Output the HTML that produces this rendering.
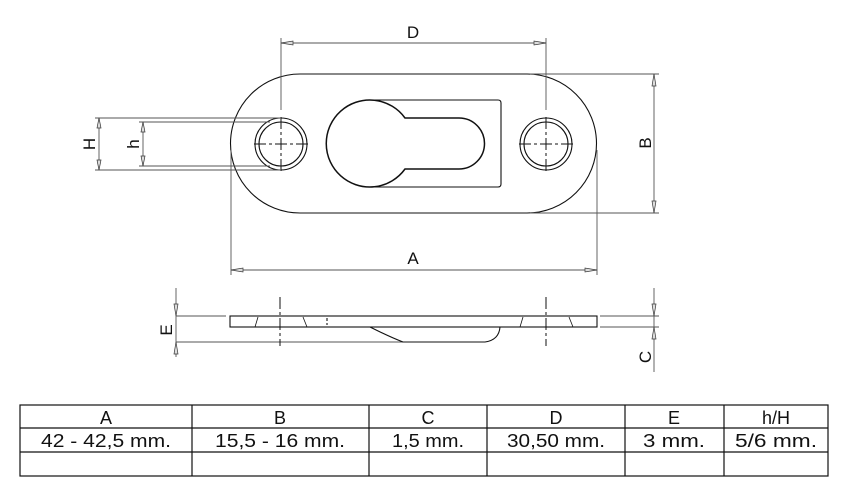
<!DOCTYPE html>
<html><head><meta charset="utf-8"><style>
html,body{margin:0;padding:0;background:#fff;width:852px;height:499px;overflow:hidden}
svg{display:block}
text{font-family:"Liberation Sans",sans-serif;fill:#111}
</style></head><body>
<svg width="852" height="499" viewBox="0 0 852 499" xmlns="http://www.w3.org/2000/svg">
<g fill="none" stroke="#111" stroke-width="1.1">
<path d="M300,74 H527 A69.5,69.5 0 0 1 527,213 H300 A69.5,69.5 0 0 1 300,74 Z"/>
<circle cx="281" cy="144" r="26"/><circle cx="281" cy="144" r="22"/>
<circle cx="546" cy="144" r="26"/><circle cx="546" cy="144" r="22"/>
<path d="M372,100 H498 Q501,100 501,103 V184 Q501,187 498,187 H372"/>
<path d="M405,118 H459 A25.5,25.5 0 0 1 459,169 H405 A43.5,43.5 0 1 1 405,118 Z" stroke-width="1.5"/>
</g>
<g stroke="#111" stroke-width="1" stroke-dasharray="12,3,3,3">
<line x1="254" y1="144" x2="310" y2="144"/><line x1="281" y1="117" x2="281" y2="172"/>
<line x1="519" y1="144" x2="575" y2="144"/><line x1="546" y1="117" x2="546" y2="172"/>
</g>
<g stroke="#555" stroke-width="0.9" fill="none">
<line x1="281" y1="38" x2="281" y2="110"/><line x1="546" y1="38" x2="546" y2="110"/>
<line x1="281" y1="43" x2="546" y2="43"/>
<line x1="530" y1="74" x2="659" y2="74"/><line x1="530" y1="213" x2="659" y2="213"/>
<line x1="654" y1="74" x2="654" y2="213"/>
<line x1="231" y1="150" x2="231" y2="275"/><line x1="597" y1="150" x2="597" y2="275"/>
<line x1="231" y1="270" x2="597" y2="270"/>
<line x1="95" y1="118" x2="281" y2="118"/><line x1="95" y1="170" x2="281" y2="170"/>
<line x1="139" y1="122" x2="270" y2="122"/><line x1="139" y1="166" x2="270" y2="166"/>
<line x1="99" y1="118" x2="99" y2="170"/><line x1="143" y1="122" x2="143" y2="166"/>
<line x1="176" y1="288" x2="176" y2="357"/>
<line x1="176" y1="316" x2="226" y2="316"/><line x1="176" y1="342" x2="480" y2="342"/>
<line x1="654" y1="288" x2="654" y2="372"/>
<line x1="600" y1="316" x2="659" y2="316"/><line x1="600" y1="327" x2="659" y2="327"/>
</g>
<g fill="#ddd" stroke="#333" stroke-width="0.7">
<path d="M281,43 l12,-2 v4 z"/><path d="M546,43 l-12,-2 v4 z"/>
<path d="M654,74 l-2,12 h4 z"/><path d="M654,213 l-2,-12 h4 z"/>
<path d="M231,270 l12,-2 v4 z"/><path d="M597,270 l-12,-2 v4 z"/>
<path d="M99,118 l-2,10 h4 z"/><path d="M99,170 l-2,-10 h4 z"/>
<path d="M143,122 l-2,10 h4 z"/><path d="M143,166 l-2,-10 h4 z"/>
<path d="M176,316 l-2,-12 h4 z"/><path d="M176,342 l-2,12 h4 z"/>
<path d="M654,316 l-2,-12 h4 z"/><path d="M654,327 l-2,12 h4 z"/>
</g>
<g fill="none" stroke="#111" stroke-width="1.1">
<rect x="230" y="316" width="367" height="11"/>
<path d="M370,327 Q390,337 403,342 H485 Q499,340 500,327"/>
<line x1="327" y1="318" x2="327" y2="325" stroke-dasharray="3,2"/>
<line x1="255" y1="327" x2="258" y2="317" stroke-width="0.8"/>
<line x1="307" y1="327" x2="303" y2="317" stroke-width="0.8"/>
<line x1="520" y1="327" x2="523" y2="317" stroke-width="0.8"/>
<line x1="573" y1="327" x2="569" y2="317" stroke-width="0.8"/>
</g>
<g stroke="#111" stroke-width="1" stroke-dasharray="12,3,3,3">
<line x1="280" y1="297" x2="280" y2="346"/><line x1="546" y1="297" x2="546" y2="346"/>
</g>
<g font-size="17">
<text x="413" y="38" text-anchor="middle">D</text>
<text x="413" y="264" text-anchor="middle">A</text>
<text transform="translate(651,143) rotate(-90)" text-anchor="middle">B</text>
<text transform="translate(95,144) rotate(-90)" text-anchor="middle">H</text>
<text transform="translate(139,144) rotate(-90)" text-anchor="middle">h</text>
<text transform="translate(172,330) rotate(-90)" text-anchor="middle">E</text>
<text transform="translate(651,357) rotate(-90)" text-anchor="middle">C</text>
</g>
<g stroke="#111" stroke-width="1.2" fill="none">
<rect x="20" y="405" width="808" height="71"/>
<line x1="20" y1="428" x2="828" y2="428"/><line x1="20" y1="452" x2="828" y2="452"/>
<line x1="192" y1="405" x2="192" y2="476"/><line x1="369" y1="405" x2="369" y2="476"/>
<line x1="487" y1="405" x2="487" y2="476"/><line x1="625" y1="405" x2="625" y2="476"/>
<line x1="724" y1="405" x2="724" y2="476"/>
</g>
<g font-size="18" text-anchor="middle">
<text x="106" y="424">A</text><text x="280" y="424">B</text><text x="428" y="424">C</text>
<text x="556" y="424">D</text><text x="674" y="424">E</text><text x="776" y="424">h/H</text>
<text x="106" y="447" textLength="130" lengthAdjust="spacingAndGlyphs">42 - 42,5 mm.</text>
<text x="280" y="447" textLength="130" lengthAdjust="spacingAndGlyphs">15,5 - 16 mm.</text>
<text x="428" y="447" textLength="72" lengthAdjust="spacingAndGlyphs">1,5 mm.</text>
<text x="556" y="447" textLength="98" lengthAdjust="spacingAndGlyphs">30,50 mm.</text>
<text x="674" y="447" textLength="62" lengthAdjust="spacingAndGlyphs">3 mm.</text>
<text x="776" y="447" textLength="82" lengthAdjust="spacingAndGlyphs">5/6 mm.</text>
</g>
</svg>
</body></html>
